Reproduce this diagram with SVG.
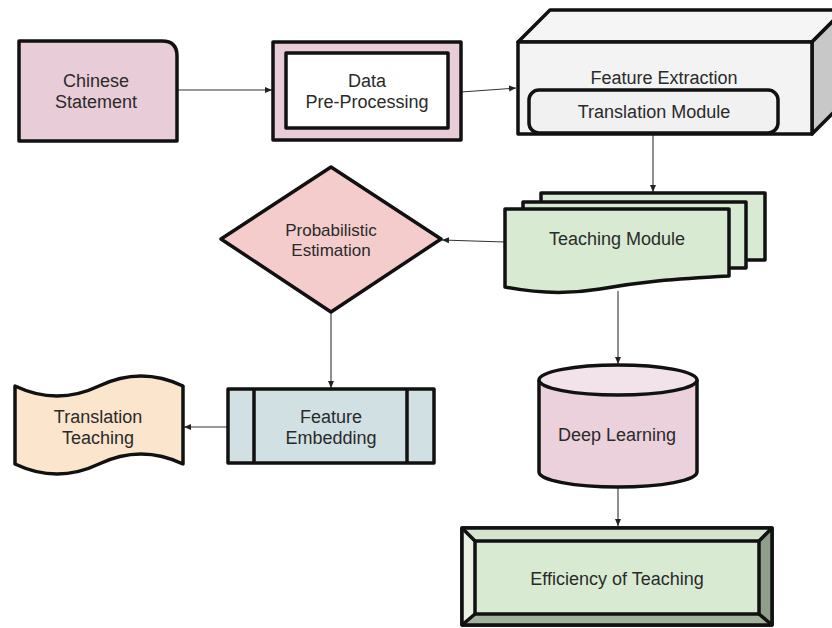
<svg xmlns="http://www.w3.org/2000/svg" width="832" height="628" viewBox="0 0 832 628">
<defs>
<marker id="arr" markerWidth="8" markerHeight="8" refX="7" refY="4" orient="auto" markerUnits="userSpaceOnUse">
<path d="M0,1 L7,4 L0,7 Z" fill="#222"/>
</marker>
<style>
.s{stroke:#111;stroke-width:3.5;stroke-linejoin:round}
.t{font-family:"Liberation Sans",Arial,sans-serif;font-size:18px;fill:#2a2a2a;text-anchor:middle}
.c{fill:none;stroke:#333;stroke-width:1.1}
</style>
</defs>
<rect width="832" height="628" fill="#fff"/>

<g id="connectors">
<line class="c" x1="177" y1="90" x2="272" y2="90" marker-end="url(#arr)"/>
<line class="c" x1="461" y1="92" x2="516" y2="88" marker-end="url(#arr)"/>
<line class="c" x1="653" y1="134" x2="653" y2="192" marker-end="url(#arr)"/>
<line class="c" x1="505" y1="242" x2="442" y2="240" marker-end="url(#arr)"/>
<line class="c" x1="331" y1="312" x2="331" y2="388" marker-end="url(#arr)"/>
<line class="c" x1="228" y1="427" x2="184" y2="427" marker-end="url(#arr)"/>
<line class="c" x1="618" y1="291" x2="618" y2="364" marker-end="url(#arr)"/>
<line class="c" x1="618" y1="487" x2="618" y2="526" marker-end="url(#arr)"/>
</g>

<g id="chinese-statement">
<path class="s" d="M19,41 H162 Q177,41 177,56 V141 H19 Z" fill="#e8cdd9"/>
<text class="t" x="96" y="87">Chinese</text>
<text class="t" x="96" y="108">Statement</text>
</g>

<g id="data-preprocessing">
<rect class="s" x="273" y="42" width="188" height="98" fill="#e8cdd9"/>
<rect class="s" x="286" y="53" width="162" height="75" fill="#fff"/>
<text class="t" x="367" y="87">Data</text>
<text class="t" x="367" y="108">Pre-Processing</text>
</g>

<g id="feature-extraction">
<path class="s" d="M518,42 L550,10 H844 L812,42 Z" fill="#f5f5f5"/>
<path class="s" d="M812,42 L844,10 V102 L812,134 Z" fill="#c8c8c8"/>
<rect class="s" x="518" y="42" width="294" height="92" fill="#f3f3f3"/>
<text class="t" x="664" y="84">Feature Extraction</text>
<rect class="s" x="529" y="90" width="249" height="43" rx="10" fill="#f1f1f1"/>
<text class="t" x="654" y="118">Translation Module</text>
</g>

<g id="teaching-module">
<rect class="s" x="541" y="193" width="224" height="67" fill="#d9ead3"/>
<rect class="s" x="523" y="202" width="223" height="66" fill="#d9ead3"/>
<path class="s" d="M505,209 H729 V276 C670,279 640,282 600,289 C570,294 535,293 505,287 Z" fill="#d9ead3"/>
<text class="t" x="617" y="245">Teaching Module</text>
</g>

<g id="probabilistic-estimation">
<path class="s" d="M331,167 L441,239 L331,312 L221,239 Z" fill="#f4cccc"/>
<text class="t" x="331" y="236" style="font-size:17px">Probabilistic</text>
<text class="t" x="331" y="256" style="font-size:17px">Estimation</text>
</g>

<g id="feature-embedding">
<rect class="s" x="228" y="389" width="206" height="74" fill="#d0e0e3"/>
<line class="s" x1="254" y1="389" x2="254" y2="463"/>
<line class="s" x1="407" y1="389" x2="407" y2="463"/>
<text class="t" x="331" y="423">Feature</text>
<text class="t" x="331" y="444">Embedding</text>
</g>

<g id="translation-teaching">
<path class="s" d="M15,386 Q57,406 99,386 Q141,366 183,386 V464 Q141,444 99,464 Q57,484 15,464 Z" fill="#fce5cd"/>
<text class="t" x="98" y="423">Translation</text>
<text class="t" x="98" y="444">Teaching</text>
</g>

<g id="deep-learning">
<path class="s" d="M539,380 V472 A79,15 0 0 0 697,472 V380" fill="#ead1dc"/>
<ellipse class="s" cx="618" cy="380" rx="79" ry="15" fill="#f2e3ea"/>
<text class="t" x="617" y="441">Deep Learning</text>
</g>

<g id="efficiency-of-teaching">
<rect class="s" x="462" y="528" width="310" height="97" fill="#d9ead3"/>
<path d="M462,528 L475,541 V614 L462,625 Z" fill="#e9f2e5"/>
<path d="M772,528 L759,541 V614 L772,625 Z" fill="#8f9d8a"/>
<path d="M462,625 L475,614 H759 L772,625 Z" fill="#a3b29e"/>
<path d="M462,528 L475,541 H759 L772,528 Z" fill="#d4e4cd"/>
<rect x="462" y="528" width="310" height="97" fill="none" class="s"/>
<rect class="s" x="475" y="541" width="284" height="73" fill="#d9ead3"/>
<path class="s" d="M462,528 L475,541 M772,528 L759,541 M462,625 L475,614 M772,625 L759,614" fill="none"/>
<text class="t" x="617" y="585">Efficiency of Teaching</text>
</g>
</svg>
